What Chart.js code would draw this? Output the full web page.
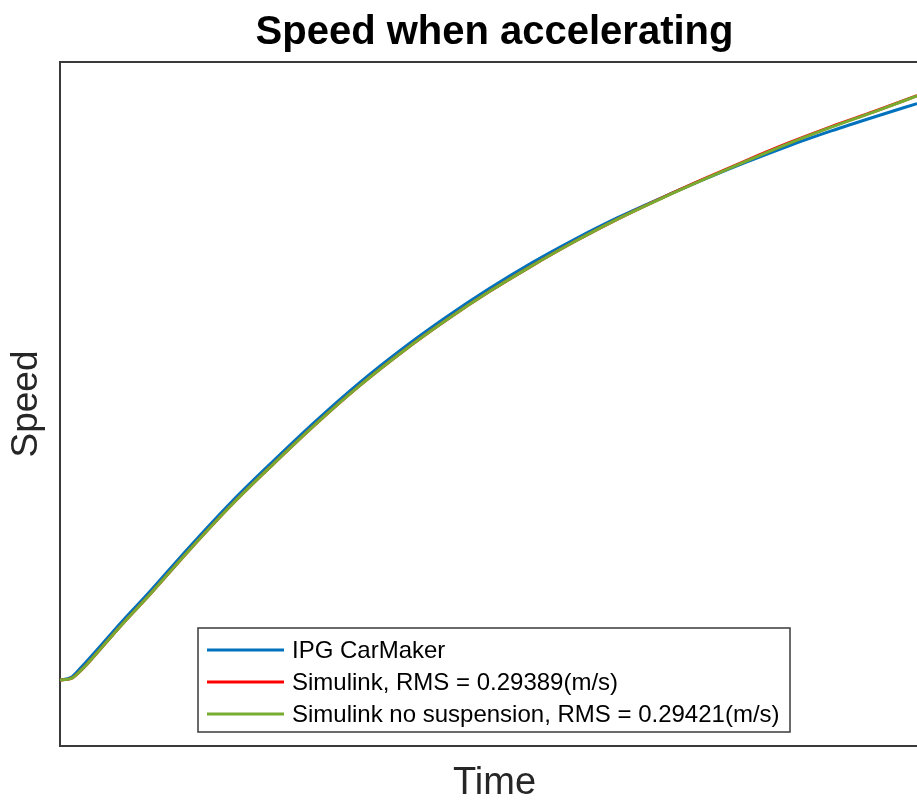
<!DOCTYPE html>
<html>
<head>
<meta charset="utf-8">
<script src="https://cdn.jsdelivr.net/npm/chart.js@4.4.1/dist/chart.umd.min.js"></script>
<style>
  html, body { margin: 0; padding: 0; background: #ffffff; overflow: hidden; width: 917px; height: 800px; }
  #c { display: block; }
</style>
</head>
<body>
<canvas id="c" width="929" height="800"></canvas>
<script>
// ---- Data (no tick labels are shown) ----
const timeValues = [0, 0.25, 0.5, 1, 1.5, 2, 3, 4, 5, 6, 7, 8, 9, 10, 11, 12, 13, 14, 15, 16, 17, 18, 19, 20];
const speedCarMaker = [2.41, 2.50, 2.89, 3.76, 4.64, 5.48, 7.24, 8.92, 10.45, 11.92, 13.29, 14.53, 15.66, 16.70, 17.65, 18.51, 19.30, 20.01, 20.69, 21.33, 21.93, 22.48, 22.99, 23.48];
const speedSimulink = [2.41, 2.46, 2.78, 3.65, 4.53, 5.37, 7.13, 8.81, 10.34, 11.81, 13.18, 14.42, 15.55, 16.59, 17.54, 18.43, 19.25, 20.00, 20.71, 21.39, 22.04, 22.64, 23.19, 23.77];
const speedNoSuspension = [2.41, 2.46, 2.78, 3.65, 4.53, 5.37, 7.13, 8.81, 10.34, 11.81, 13.18, 14.42, 15.55, 16.59, 17.54, 18.43, 19.25, 19.99, 20.69, 21.37, 22.02, 22.62, 23.18, 23.76];
const seriesLabels = [
  'IPG CarMaker',
  'Simulink, RMS = 0.29389(m/s)',
  'Simulink no suspension, RMS = 0.29421(m/s)'
];
const chartTitle = 'Speed when accelerating';
const xTitle = 'Time';
const yTitle = 'Speed';

const FONT = '"Liberation Sans", Arial, Helvetica, sans-serif';
const AXIS_COLOR = '#3a3a3a';
const colors = ['#0072BD', '#FF0000', '#77AC30'];

function toPoints(xs, ys) { return xs.map((x, i) => ({ x: x, y: ys[i] })); }

// Legend drawn inside the axes box, MATLAB style
const insideLegend = {
  id: 'insideLegend',
  afterDatasetsDraw(chart) {
    const ctx = chart.ctx;
    const box = { x: 198, y: 628, w: 592, h: 104 };
    ctx.save();
    ctx.fillStyle = '#ffffff';
    ctx.fillRect(box.x, box.y, box.w, box.h);
    ctx.strokeStyle = AXIS_COLOR;
    ctx.lineWidth = 1.5;
    ctx.strokeRect(box.x, box.y, box.w, box.h);
    ctx.font = '24px ' + FONT;
    ctx.textBaseline = 'middle';
    ctx.textAlign = 'left';
    const rowYs = [650, 682, 714];
    seriesLabels.forEach((lab, i) => {
      const y = rowYs[i];
      ctx.strokeStyle = colors[i];
      ctx.lineWidth = 3;
      ctx.beginPath();
      ctx.moveTo(207, y);
      ctx.lineTo(284, y);
      ctx.stroke();
      ctx.fillStyle = '#000000';
      ctx.fillText(lab, 292, y + 1);
    });
    ctx.restore();
  }
};

new Chart(document.getElementById('c'), {
  type: 'line',
  data: {
    datasets: [
      { label: seriesLabels[2], data: toPoints(timeValues, speedNoSuspension), borderColor: colors[2], order: 0 },
      { label: seriesLabels[1], data: toPoints(timeValues, speedSimulink), borderColor: colors[1], order: 1 },
      { label: seriesLabels[0], data: toPoints(timeValues, speedCarMaker), borderColor: colors[0], order: 2 }
    ]
  },
  options: {
    responsive: false,
    animation: false,
    devicePixelRatio: 1,
    layout: { padding: 0 },
    elements: {
      point: { radius: 0, hoverRadius: 0 },
      line: { borderWidth: 3, cubicInterpolationMode: 'monotone', fill: false }
    },
    plugins: {
      legend: { display: false },
      tooltip: { enabled: false },
      title: {
        display: true,
        fullSize: false,
        text: chartTitle,
        color: '#000000',
        font: { family: FONT, size: 40, weight: 'bold', lineHeight: 1.2 },
        padding: { top: 9, bottom: 5 }
      }
    },
    scales: {
      x: {
        type: 'linear',
        position: 'bottom',
        min: 0,
        max: 20.28,
        ticks: { display: false },
        grid: { display: true, color: 'rgba(0,0,0,0)', drawTicks: false },
        border: { display: true, color: AXIS_COLOR, width: 2 },
        title: {
          display: true,
          text: xTitle,
          color: '#262626',
          font: { family: FONT, size: 38, lineHeight: 0.8 },
          padding: { top: 22.8, bottom: 0.8 }
        }
      },
      x2: {
        type: 'linear',
        position: 'top',
        min: 0,
        max: 20.28,
        ticks: { display: false },
        grid: { display: true, color: 'rgba(0,0,0,0)', drawTicks: false },
        border: { display: true, color: AXIS_COLOR, width: 2 }
      },
      y: {
        type: 'linear',
        position: 'left',
        min: 0,
        max: 25,
        ticks: { display: false },
        grid: { display: true, color: 'rgba(0,0,0,0)', drawTicks: false },
        border: { display: true, color: AXIS_COLOR, width: 2 },
        title: {
          display: true,
          text: yTitle,
          color: '#262626',
          font: { family: FONT, size: 37, lineHeight: 0.8 },
          padding: { top: 12, bottom: 18.4 }
        }
      }
    }
  },
  plugins: [insideLegend]
});
</script>
</body>
</html>
